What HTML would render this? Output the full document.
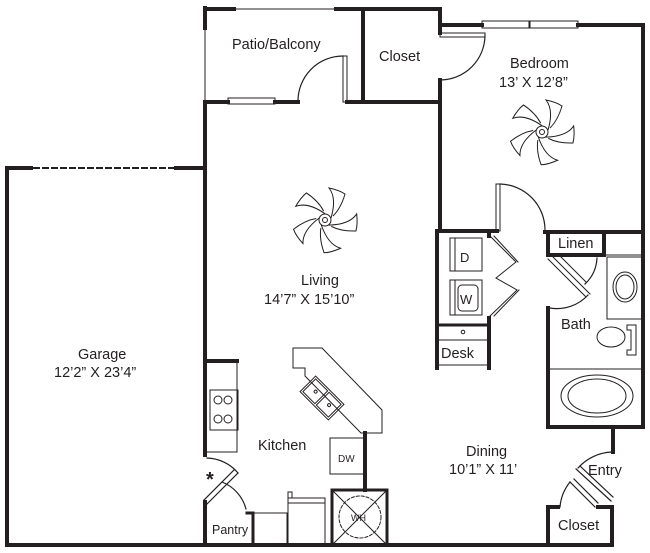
<!DOCTYPE html>
<html><head><style>
html,body{margin:0;padding:0;background:#fff;}
svg{display:block}
text{font-family:"Liberation Sans",sans-serif;fill:#231f20;}
</style></head><body>
<svg width="650" height="553" viewBox="0 0 650 553" xmlns="http://www.w3.org/2000/svg">
<g fill="none" stroke="#231f20" stroke-linecap="square">
<path d="M7 545 V168 H31" stroke-width="4"/>
<path d="M34 168 H173" stroke-width="2" stroke-dasharray="5,4"/>
<path d="M176 168 H205" stroke-width="4"/>
<path d="M7 545 H612" stroke-width="4"/>
<path d="M205 102 V455" stroke-width="4"/>
<path d="M205 8 V28" stroke-width="4"/>
<path d="M205 28 V100" stroke-width="1"/>
<path d="M205 502 V545" stroke-width="4"/>
<path d="M205 9 H234" stroke-width="4"/>
<path d="M234 9 H336" stroke-width="1"/>
<path d="M336 9 H440 V33" stroke-width="4"/>
<path d="M363 9 V102" stroke-width="4"/>
<path d="M205 102 H228 M275 102 H298 M347 102 H440" stroke-width="4"/>
<rect x="228" y="98" width="47" height="6" stroke-width="1"/>
<rect x="343" y="56" width="4" height="46" stroke-width="1"/>
<path d="M343 56 A45 45 0 0 0 298 102" stroke-width="1.2"/>
<rect x="440" y="33" width="45" height="4" stroke-width="1"/>
<path d="M485 35 A45 45 0 0 1 440 80" stroke-width="1.2"/>
<path d="M440 80 V230" stroke-width="4"/>
<path d="M440 25 H482 M578 25 H643 V232 H545" stroke-width="4"/>
<rect x="482" y="21" width="96" height="7" stroke-width="1"/>
<path d="M529 21 V28 M530 21 V28" stroke-width="1"/>
<path d="M440 231 H497" stroke-width="4"/>
<rect x="496" y="184" width="4" height="47" stroke-width="1"/>
<path d="M500 184 A46 46 0 0 1 545 230" stroke-width="1.2"/>
<path d="M437 231 V368" stroke-width="4"/>
<path d="M489 231 V236 M489 318 V368" stroke-width="4"/>
<path d="M437 325 H489" stroke-width="3"/>
<path d="M437 340 H489 M437 365 H489" stroke-width="1"/>
<circle cx="463" cy="332" r="1.8" stroke-width="1"/>
<rect x="450" y="238" width="32" height="33" stroke-width="1"/>
<path d="M455 238 V271" stroke-width="1"/>
<rect x="450" y="280" width="32" height="35" stroke-width="1"/>
<path d="M455 280 V315" stroke-width="1"/>
<rect x="458" y="285" width="20" height="26" rx="4" stroke-width="1"/>
<path d="M490 236 L516 262 L496 278 L517 290 L490 316" stroke-width="1"/>
<path d="M494 236 L518 262 M494 316 L519 290" stroke-width="1"/>
<path d="M548 232 V255 H604 M604 232 V253 M548 308 V427 H643 V232" stroke-width="4"/>
<path d="M605 255 H643" stroke-width="1"/>
<path d="M548 259 L586 297 M552 256 L590 294 M560 256 L586 282" stroke-width="1"/>
<path d="M588 295 A42 42 0 0 1 550 308" stroke-width="1.2"/>
<path d="M585 284 A38 38 0 0 0 597 258" stroke-width="1.2"/>
<rect x="607" y="257" width="36" height="62" stroke-width="1"/>
<ellipse cx="625" cy="287" rx="12" ry="15" stroke-width="1"/>
<ellipse cx="625" cy="287" rx="9" ry="12" stroke-width="1"/>
<ellipse cx="611" cy="337" rx="14" ry="10" stroke-width="1"/>
<path d="M627 325 H636 V355 H627 V350 H631 V330 H627 Z" stroke-width="1"/>
<path d="M550 369 H643" stroke-width="1"/>
<ellipse cx="597" cy="396" rx="36" ry="21" stroke-width="1"/>
<ellipse cx="597" cy="396" rx="29" ry="17" stroke-width="1"/>
<path d="M613 427 V452" stroke-width="4"/>
<path d="M612 452 A48 48 0 0 0 578 468" stroke-width="1.2"/>
<path d="M576 469 L611 501 M580 466 L613 497" stroke-width="1.2"/>
<path d="M548 545 V507 H558 M598 507 H612 V545" stroke-width="4"/>
<path d="M570 482 L595 507 M574 479 L598 503" stroke-width="1.2"/>
<path d="M570 482 A46 46 0 0 0 560 507" stroke-width="1.2"/>
<path d="M205 361 H237" stroke-width="4"/>
<path d="M237 361 V452 H207" stroke-width="1"/>
<rect x="210" y="390" width="28" height="40" stroke-width="1"/>
<circle cx="218" cy="400" r="4" stroke-width="1"/><circle cx="228" cy="400" r="4" stroke-width="1"/>
<circle cx="218" cy="419" r="4" stroke-width="1"/><circle cx="228" cy="419" r="4" stroke-width="1"/>
<path d="M207 458 A42 42 0 0 1 238 473" stroke-width="1.2"/>
<path d="M238 473 L207 504 M234 470 L204 500" stroke-width="1.2"/>
<path d="M222 482 A40 40 0 0 1 246 509" stroke-width="1.2"/>
<path d="M247 513 H253 V545" stroke-width="3"/>
<rect x="254" y="513" width="33" height="32" stroke-width="1"/>
<rect x="288" y="498" width="37" height="47" stroke-width="1"/>
<path d="M288 503 H325" stroke-width="1"/>
<rect x="288" y="492" width="4" height="6" stroke-width="1"/>
<path d="M293 348 H322 L382 410 V433 H361 L305 376 V368 H293 Z" stroke-width="1"/>
<g transform="translate(322,398) rotate(45)">
<rect x="-20" y="-11" width="40" height="22" stroke-width="1"/>
<rect x="-18" y="-9" width="17" height="18" stroke-width="1"/>
<rect x="1" y="-9" width="17" height="18" stroke-width="1"/>
<circle cx="-9" cy="0" r="1.5" stroke-width="1"/><circle cx="10" cy="0" r="1.5" stroke-width="1"/>
</g>
<path d="M365 433 V490" stroke-width="4"/>
<rect x="330" y="438" width="34" height="36" stroke-width="1"/>
<rect x="332" y="490" width="55" height="55" stroke-width="3"/>
<path d="M332 490 L387 545 M387 490 L332 545" stroke-width="1"/>
<circle cx="360" cy="517" r="21" stroke-width="1" stroke-dasharray="3,2"/>
</g>
<g fill="none" stroke="#231f20" stroke-width="1">
<g transform="translate(325,220)">
<circle r="6"/><circle r="2.5"/>
<g id="b"><path d="M6 -2 Q12 -22 4 -32 Q14 -30 20 -26 Q16 -12 8 -4"/></g>
<use href="#b" transform="rotate(72)"/><use href="#b" transform="rotate(144)"/><use href="#b" transform="rotate(216)"/><use href="#b" transform="rotate(288)"/>
</g>
<g transform="translate(542,132)">
<circle r="6"/><circle r="2.5"/>
<use href="#b"/><use href="#b" transform="rotate(72)"/><use href="#b" transform="rotate(144)"/><use href="#b" transform="rotate(216)"/><use href="#b" transform="rotate(288)"/>
</g>
</g>
<g font-size="14.5">
<text x="232" y="49">Patio/Balcony</text>
<text x="379" y="61">Closet</text>
<text x="510" y="68">Bedroom</text>
<text x="499" y="87">13’ X 12’8”</text>
<text x="301" y="285">Living</text>
<text x="264" y="304">14’7” X 15’10”</text>
<text x="78" y="359">Garage</text>
<text x="54" y="377">12’2” X 23’4”</text>
<text x="258" y="450">Kitchen</text>
<text x="466" y="456">Dining</text>
<text x="449" y="474">10’1” X 11’</text>
<text x="558" y="248">Linen</text>
<text x="561" y="329">Bath</text>
<text x="588" y="475">Entry</text>
<text x="558" y="530">Closet</text>
<text x="441" y="358">Desk</text>
<text x="212" y="534" font-size="12.5">Pantry</text>
<text x="460" y="262" font-size="13">D</text>
<text x="460" y="304" font-size="13">W</text>
<text x="338" y="462" font-size="10">DW</text>
<text x="351" y="521" font-size="9">WH</text>
<text x="206" y="486" font-size="20" font-weight="bold">*</text>
</g>
</svg>
</body></html>
